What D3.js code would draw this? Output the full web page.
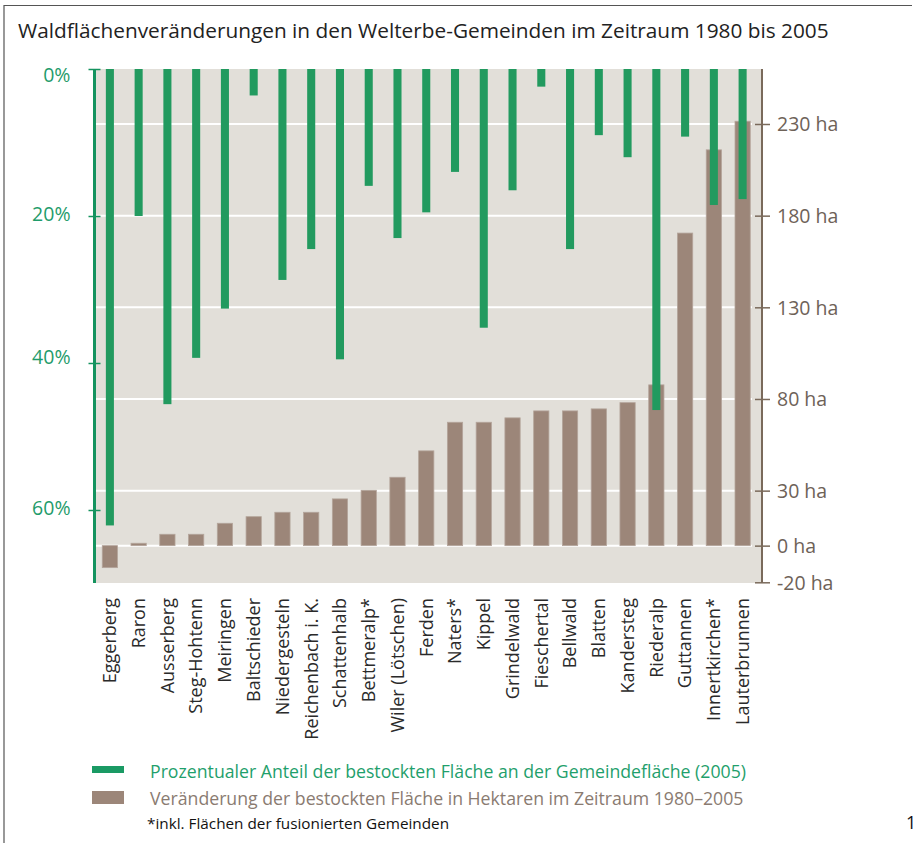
<!DOCTYPE html>
<html>
<head>
<meta charset="utf-8">
<script src="https://cdn.jsdelivr.net/npm/d3@7"></script>
<style>
  body { margin: 0; background: #fff; }
  svg { display: block; font-family: "Open Sans", sans-serif; }
</style>
</head>
<body>
<div id="chart"></div>
<script>
// Gemeinden, sortiert nach Veränderung der Waldfläche
const gemeinden = ["Eggerberg", "Raron", "Ausserberg", "Steg-Hohtenn", "Meiringen", "Baltschieder",
    "Niedergesteln", "Reichenbach i. K.", "Schattenhalb", "Bettmeralp*", "Wiler (Lötschen)", "Ferden",
    "Naters*", "Kippel", "Grindelwald", "Fieschertal", "Bellwald", "Blatten", "Kandersteg", "Riederalp",
    "Guttannen", "Innertkirchen*", "Lauterbrunnen"];

// Anteil bestockte Fläche an Gemeindefläche 2005 (%)
const anteil = [62.1, 20.0, 45.6, 39.3, 32.6, 3.6, 28.7, 24.5, 39.5, 15.9, 23.0, 19.5,
    14.0, 35.2, 16.5, 2.4, 24.5, 9.0, 12.0, 46.4, 9.2, 18.5, 17.7];

// Veränderung bestockte Fläche 1980-2005 (ha)
const veraenderung = [-12, 1.3, 6.2, 6.2, 12.2, 15.8, 18.2, 18.2, 25.5, 30.2, 37.3, 51.7,
    67.3, 67.3, 69.7, 73.5, 73.5, 74.6, 78.0, 87.7, 170.5, 215.9, 231.5];

const pctTicks = [0, 20, 40, 60];
const haTicks = [-20, 0, 30, 80, 130, 180, 230];
const gridTicks = [0, 30, 80, 130, 180, 230];

const green = "#229a5f", greenAxis = "#14935f", greenText = "#1f9c6b";
const brown = "#9c8679", brownAxis = "#7a6a5b", brownText = "#6e6258";

const width = 920, height = 843;
const plot = { left: 96, right: 761, top: 69, bottom: 583 };

const svg = d3.select("#chart").append("svg")
    .attr("width", width)
    .attr("height", height);

// Rahmen (oben + links)
svg.append("path")
    .attr("d", `M4,${height} V5.5 H912`)
    .attr("fill", "none")
    .attr("stroke", "#555")
    .attr("stroke-width", 1.2);

svg.append("text")
    .attr("x", 18)
    .attr("y", 38)
    .attr("font-size", 20.8)
    .attr("fill", "#222")
    .text("Waldflächenveränderungen in den Welterbe-Gemeinden im Zeitraum 1980 bis 2005");

const x = d3.scaleBand()
    .domain(gemeinden)
    .range([95.5, 757]);

const yPct = d3.scaleLinear()
    .domain([0, 70])
    .range([plot.top, plot.bottom + 0.5]);

const yHa = d3.scaleLinear()
    .domain([-20, 260])
    .range([582.3, plot.top]);

// Hintergrund
svg.append("rect")
    .attr("x", plot.left)
    .attr("y", plot.top)
    .attr("width", plot.right - plot.left)
    .attr("height", plot.bottom - plot.top)
    .attr("fill", "#e2dfd9");

// Gitterlinien
svg.append("g")
    .selectAll("line")
    .data(gridTicks)
    .join("line")
    .attr("x1", plot.left)
    .attr("x2", 752)
    .attr("y1", d => yHa(d))
    .attr("y2", d => yHa(d))
    .attr("stroke", "#fff")
    .attr("stroke-width", 2);

// braune Balken (ha)
const bw = x.bandwidth() * 0.53;
svg.append("g")
    .selectAll("rect")
    .data(veraenderung)
    .join("rect")
    .attr("x", (d, i) => x(gemeinden[i]) + x.bandwidth() / 2 - bw / 2)
    .attr("y", d => yHa(Math.max(0, d)))
    .attr("width", bw)
    .attr("height", d => Math.abs(yHa(d) - yHa(0)))
    .attr("fill", brown)
    .attr("stroke", "#b4a59b")
    .attr("stroke-width", 0.8);

// grüne Balken (%)
const gw = x.bandwidth() * 0.28;
svg.append("g")
    .selectAll("rect")
    .data(anteil)
    .join("rect")
    .attr("x", (d, i) => x(gemeinden[i]) + x.bandwidth() / 2 - gw / 2)
    .attr("y", yPct(0))
    .attr("width", gw)
    .attr("height", d => yPct(d) - yPct(0))
    .attr("fill", green);

// linke Achse (%)
const leftAxis = d3.axisLeft(yPct)
    .tickValues(pctTicks)
    .tickSize(0)
    .tickFormat(d => d + "%");

const gl = svg.append("g")
    .attr("transform", `translate(94.5,0)`)
    .call(leftAxis);
gl.select(".domain").remove();
gl.append("line")
    .attr("y1", plot.top)
    .attr("y2", plot.bottom)
    .attr("stroke", greenAxis)
    .attr("stroke-width", 3);
gl.selectAll(".tick").append("line")
    .attr("x1", -6)
    .attr("x2", 6)
    .attr("stroke", greenAxis)
    .attr("stroke-width", 1.5);
gl.selectAll(".tick text")
    .attr("x", -24)
    .attr("dy", d => d === 0 ? "0.65em" : (d === 40 ? "0.05em" : "0.25em"))
    .attr("font-size", 19.5)
    .attr("font-family", "Open Sans, sans-serif")
    .attr("fill", greenText);

// rechte Achse (ha)
const rightAxis = d3.axisRight(yHa)
    .tickValues(haTicks)
    .tickSize(0)
    .tickFormat(d => d + " ha");

const gr = svg.append("g")
    .attr("transform", `translate(762,0)`)
    .call(rightAxis);
gr.select(".domain").remove();
gr.append("line")
    .attr("y1", plot.top)
    .attr("y2", plot.bottom)
    .attr("stroke", brownAxis)
    .attr("stroke-width", 2);
gr.selectAll(".tick").append("line")
    .attr("x1", -7)
    .attr("x2", 8)
    .attr("stroke", brownAxis)
    .attr("stroke-width", 1.5);
gr.selectAll(".tick text")
    .attr("x", 15)
    .attr("dy", "0.35em")
    .attr("font-size", 19.5)
    .attr("font-family", "Open Sans, sans-serif")
    .attr("fill", brownText);

// Gemeindenamen
svg.append("g")
    .selectAll("text")
    .data(gemeinden)
    .join("text")
    .attr("transform", d => `translate(${x(d) + x.bandwidth() / 2},598) rotate(-90)`)
    .attr("text-anchor", "end")
    .attr("dy", "0.35em")
    .attr("font-size", 18)
    .attr("fill", "#2a2a2a")
    .text(d => d);

// Legende
const legend = svg.append("g");
legend.append("rect")
    .attr("x", 92).attr("y", 766)
    .attr("width", 32).attr("height", 7)
    .attr("fill", "#1a9a64");
legend.append("text")
    .attr("x", 150).attr("y", 778)
    .attr("font-size", 17.7)
    .attr("fill", "#1fa06c")
    .text("Prozentualer Anteil der bestockten Fläche an der Gemeindefläche (2005)");
legend.append("rect")
    .attr("x", 92).attr("y", 791)
    .attr("width", 32).attr("height", 13)
    .attr("fill", brown);
legend.append("text")
    .attr("x", 150).attr("y", 805)
    .attr("font-size", 17.7)
    .attr("fill", "#8a7b71")
    .text("Veränderung der bestockten Fläche in Hektaren im Zeitraum 1980–2005");
legend.append("text")
    .attr("x", 147).attr("y", 829)
    .attr("font-size", 15.3)
    .attr("fill", "#111")
    .text("*inkl. Flächen der fusionierten Gemeinden");

svg.append("text")
    .attr("x", 906).attr("y", 829)
    .attr("font-size", 18)
    .attr("fill", "#111")
    .text("1");
</script>
</body>
</html>
